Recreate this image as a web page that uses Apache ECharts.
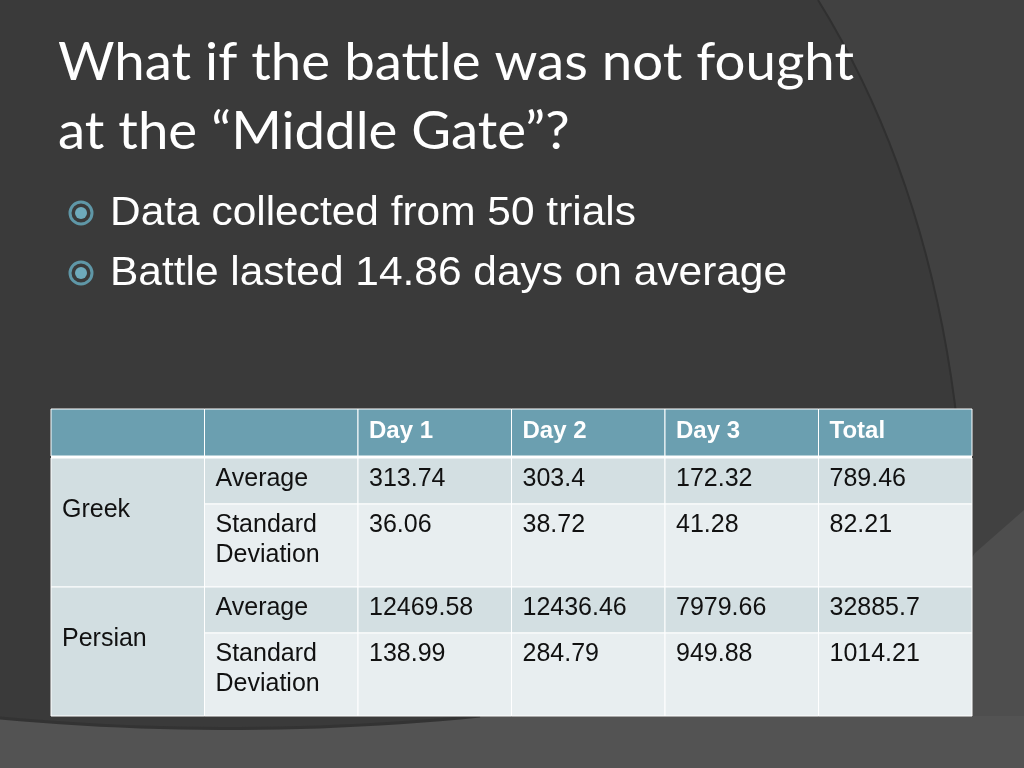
<!DOCTYPE html>
<html lang="en">
<head>
    <meta charset="UTF-8">
    <title>What if the battle was not fought at the “Middle Gate”?</title>
    <script src="https://cdn.jsdelivr.net/npm/echarts@6/dist/echarts.min.js"></script>
    <style>
        html, body { margin: 0; padding: 0; background: #3a3a3a; }
        #container { width: 1024px; height: 768px; }
    </style>
</head>
<body>
    <div id="container"></div>
    <script>
        // slide text
        var titleLines = ['What if the battle was not fought', 'at the “Middle Gate”?'];
        var bullets = ['Data collected from 50 trials', 'Battle lasted 14.86 days on average'];

        // table data
        var headers = ['', '', 'Day 1', 'Day 2', 'Day 3', 'Total'];
        var groups = ['Greek', 'Persian'];
        var measures = ['Average', 'Standard\nDeviation'];
        var greekAvg = [313.74, 303.4, 172.32, 789.46];
        var greekStd = [36.06, 38.72, 41.28, 82.21];
        var persianAvg = [12469.58, 12436.46, 7979.66, 32885.7];
        var persianStd = [138.99, 284.79, 949.88, 1014.21];

        // row edges in pixels from table top (header, gap, avg, std, avg, std)
        var rowEdges = [0, 47, 49, 95, 178, 224, 307];
        var colors = {
            head: '#6b9fb0',
            group: '#d2dee1',
            avg: '#d3dfe2',
            std: '#e8eef0',
            gap: '#ffffff'
        };

        // build cells: [col0, col1, rowTop, rowBottom], text, kind
        var cells = [];
        var cellText = [];
        var cellKind = [];
        function addCell(c0, c1, y0, y1, text, kind) {
            cells.push([c0, c1, y0, y1]);
            cellText.push(text);
            cellKind.push(kind);
        }
        headers.forEach(function (h, i) {
            addCell(i, i + 1, rowEdges[0], rowEdges[1], h, 'head');
        });
        addCell(0, 6, rowEdges[1], rowEdges[2], '', 'gap');
        var blocks = [
            [greekAvg, greekStd],
            [persianAvg, persianStd]
        ];
        groups.forEach(function (g, gi) {
            var top = rowEdges[2 + gi * 2];
            var mid = rowEdges[3 + gi * 2];
            var bottom = rowEdges[4 + gi * 2];
            addCell(0, 1, top, bottom, g, 'group');
            addCell(1, 2, top, mid, measures[0], 'avg');
            addCell(1, 2, mid, bottom, measures[1], 'std');
            blocks[gi][0].forEach(function (v, i) {
                addCell(i + 2, i + 3, top, mid, String(v), 'avg');
            });
            blocks[gi][1].forEach(function (v, i) {
                addCell(i + 2, i + 3, mid, bottom, String(v), 'std');
            });
        });

        function renderCell(params, api) {
            var idx = params.dataIndex;
            var kind = cellKind[idx];
            var p0 = api.coord([api.value(0), api.value(2)]);
            var p1 = api.coord([api.value(1), api.value(3)]);
            var children = [{
                type: 'rect',
                shape: { x: p0[0], y: p0[1], width: p1[0] - p0[0], height: p1[1] - p0[1] },
                style: { fill: colors[kind], stroke: '#ffffff', lineWidth: kind == 'gap' ? 0 : 1 }
            }];
            if (cellText[idx]) {
                // group names sit lower in the merged cell
                var dy = kind == 'group' ? 37 : (kind == 'head' ? 7 : 6);
                children.push({
                    type: 'text',
                    x: p0[0] + 11,
                    y: p0[1] + dy,
                    style: {
                        text: cellText[idx],
                        fill: kind == 'head' ? '#ffffff' : '#111111',
                        font: (kind == 'head' ? 'bold 24px' : '25px') + ' "Liberation Sans", Arial, sans-serif',
                        verticalAlign: 'top',
                        align: 'left',
                        lineHeight: 30
                    }
                });
            }
            return { type: 'group', children: children };
        }

        var bulletGraphics = [];
        bullets.forEach(function (b, i) {
            var cy = 213 + i * 60;
            bulletGraphics.push({
                type: 'circle', shape: { cx: 81, cy: cy, r: 11 },
                style: { fill: 'none', stroke: '#5f97a7', lineWidth: 3 }, z: 10
            });
            bulletGraphics.push({
                type: 'circle', shape: { cx: 81, cy: cy, r: 6 },
                style: { fill: '#6eaabb' }, z: 10
            });
            bulletGraphics.push({
                type: 'text', x: 110, y: cy + 1, scaleX: 1.035,
                style: {
                    text: b, fill: '#ffffff',
                    font: '41px "Liberation Sans", Arial, sans-serif',
                    verticalAlign: 'middle'
                }, z: 10
            });
        });

        var titleGraphics = titleLines.map(function (t, i) {
            return {
                type: 'text', x: 58, y: 63 + i * 69, scaleX: 1.05,
                style: {
                    text: t, fill: '#ffffff',
                    font: '52px Lato, "Liberation Sans", sans-serif',
                    verticalAlign: 'middle'
                }, z: 10
            };
        });

        // points along a quadratic curve, for the theme's background swooshes
        function quad(a, c, b) {
            var pts = [];
            for (var k = 0; k <= 24; k++) {
                var t = k / 24;
                pts.push([
                    (1 - t) * (1 - t) * a[0] + 2 * (1 - t) * t * c[0] + t * t * b[0],
                    (1 - t) * (1 - t) * a[1] + 2 * (1 - t) * t * c[1] + t * t * b[1]
                ]);
            }
            return pts;
        }
        var arcRight = quad([818, 0], [960, 230], [966, 560]);
        var arcBottom = quad([0, 718], [240, 740], [480, 716]);

        var backdrop = [
            { type: 'rect', shape: { x: 0, y: 0, width: 1024, height: 768 }, style: { fill: '#3a3a3a' }, z: 0 },
            {
                type: 'polygon', z: 1,
                shape: { points: arcRight.concat([[1024, 560], [1024, 0]]) },
                style: { fill: '#414141' }
            },
            {
                type: 'polyline', z: 1,
                shape: { points: arcRight },
                style: { stroke: '#303030', lineWidth: 2 }
            },
            {
                type: 'polygon', z: 2,
                shape: { points: [[1024, 510], [975, 553], [867, 717], [837, 768], [1024, 768]] },
                style: { fill: '#4e4e4e' }
            },
            {
                type: 'polygon', z: 2,
                shape: { points: arcBottom.concat([[1024, 716], [1024, 768], [0, 768]]) },
                style: { fill: '#535353' }
            },
            {
                type: 'polyline', z: 2,
                shape: { points: arcBottom },
                style: { stroke: '#333333', lineWidth: 3 }
            }
        ];

        var myChart = echarts.init(document.getElementById('container'));
        myChart.setOption({
            backgroundColor: '#3a3a3a',
            animation: false,
            graphic: backdrop.concat(titleGraphics, bulletGraphics),
            grid: { left: 51, top: 409, width: 921, height: 307 },
            xAxis: { type: 'value', min: 0, max: 6, show: false },
            yAxis: { type: 'value', min: 0, max: 307, inverse: true, show: false },
            series: [{
                type: 'custom',
                renderItem: renderCell,
                encode: { x: [0, 1], y: [2, 3] },
                data: cells,
                z: 20
            }]
        });
    </script>
</body>
</html>
